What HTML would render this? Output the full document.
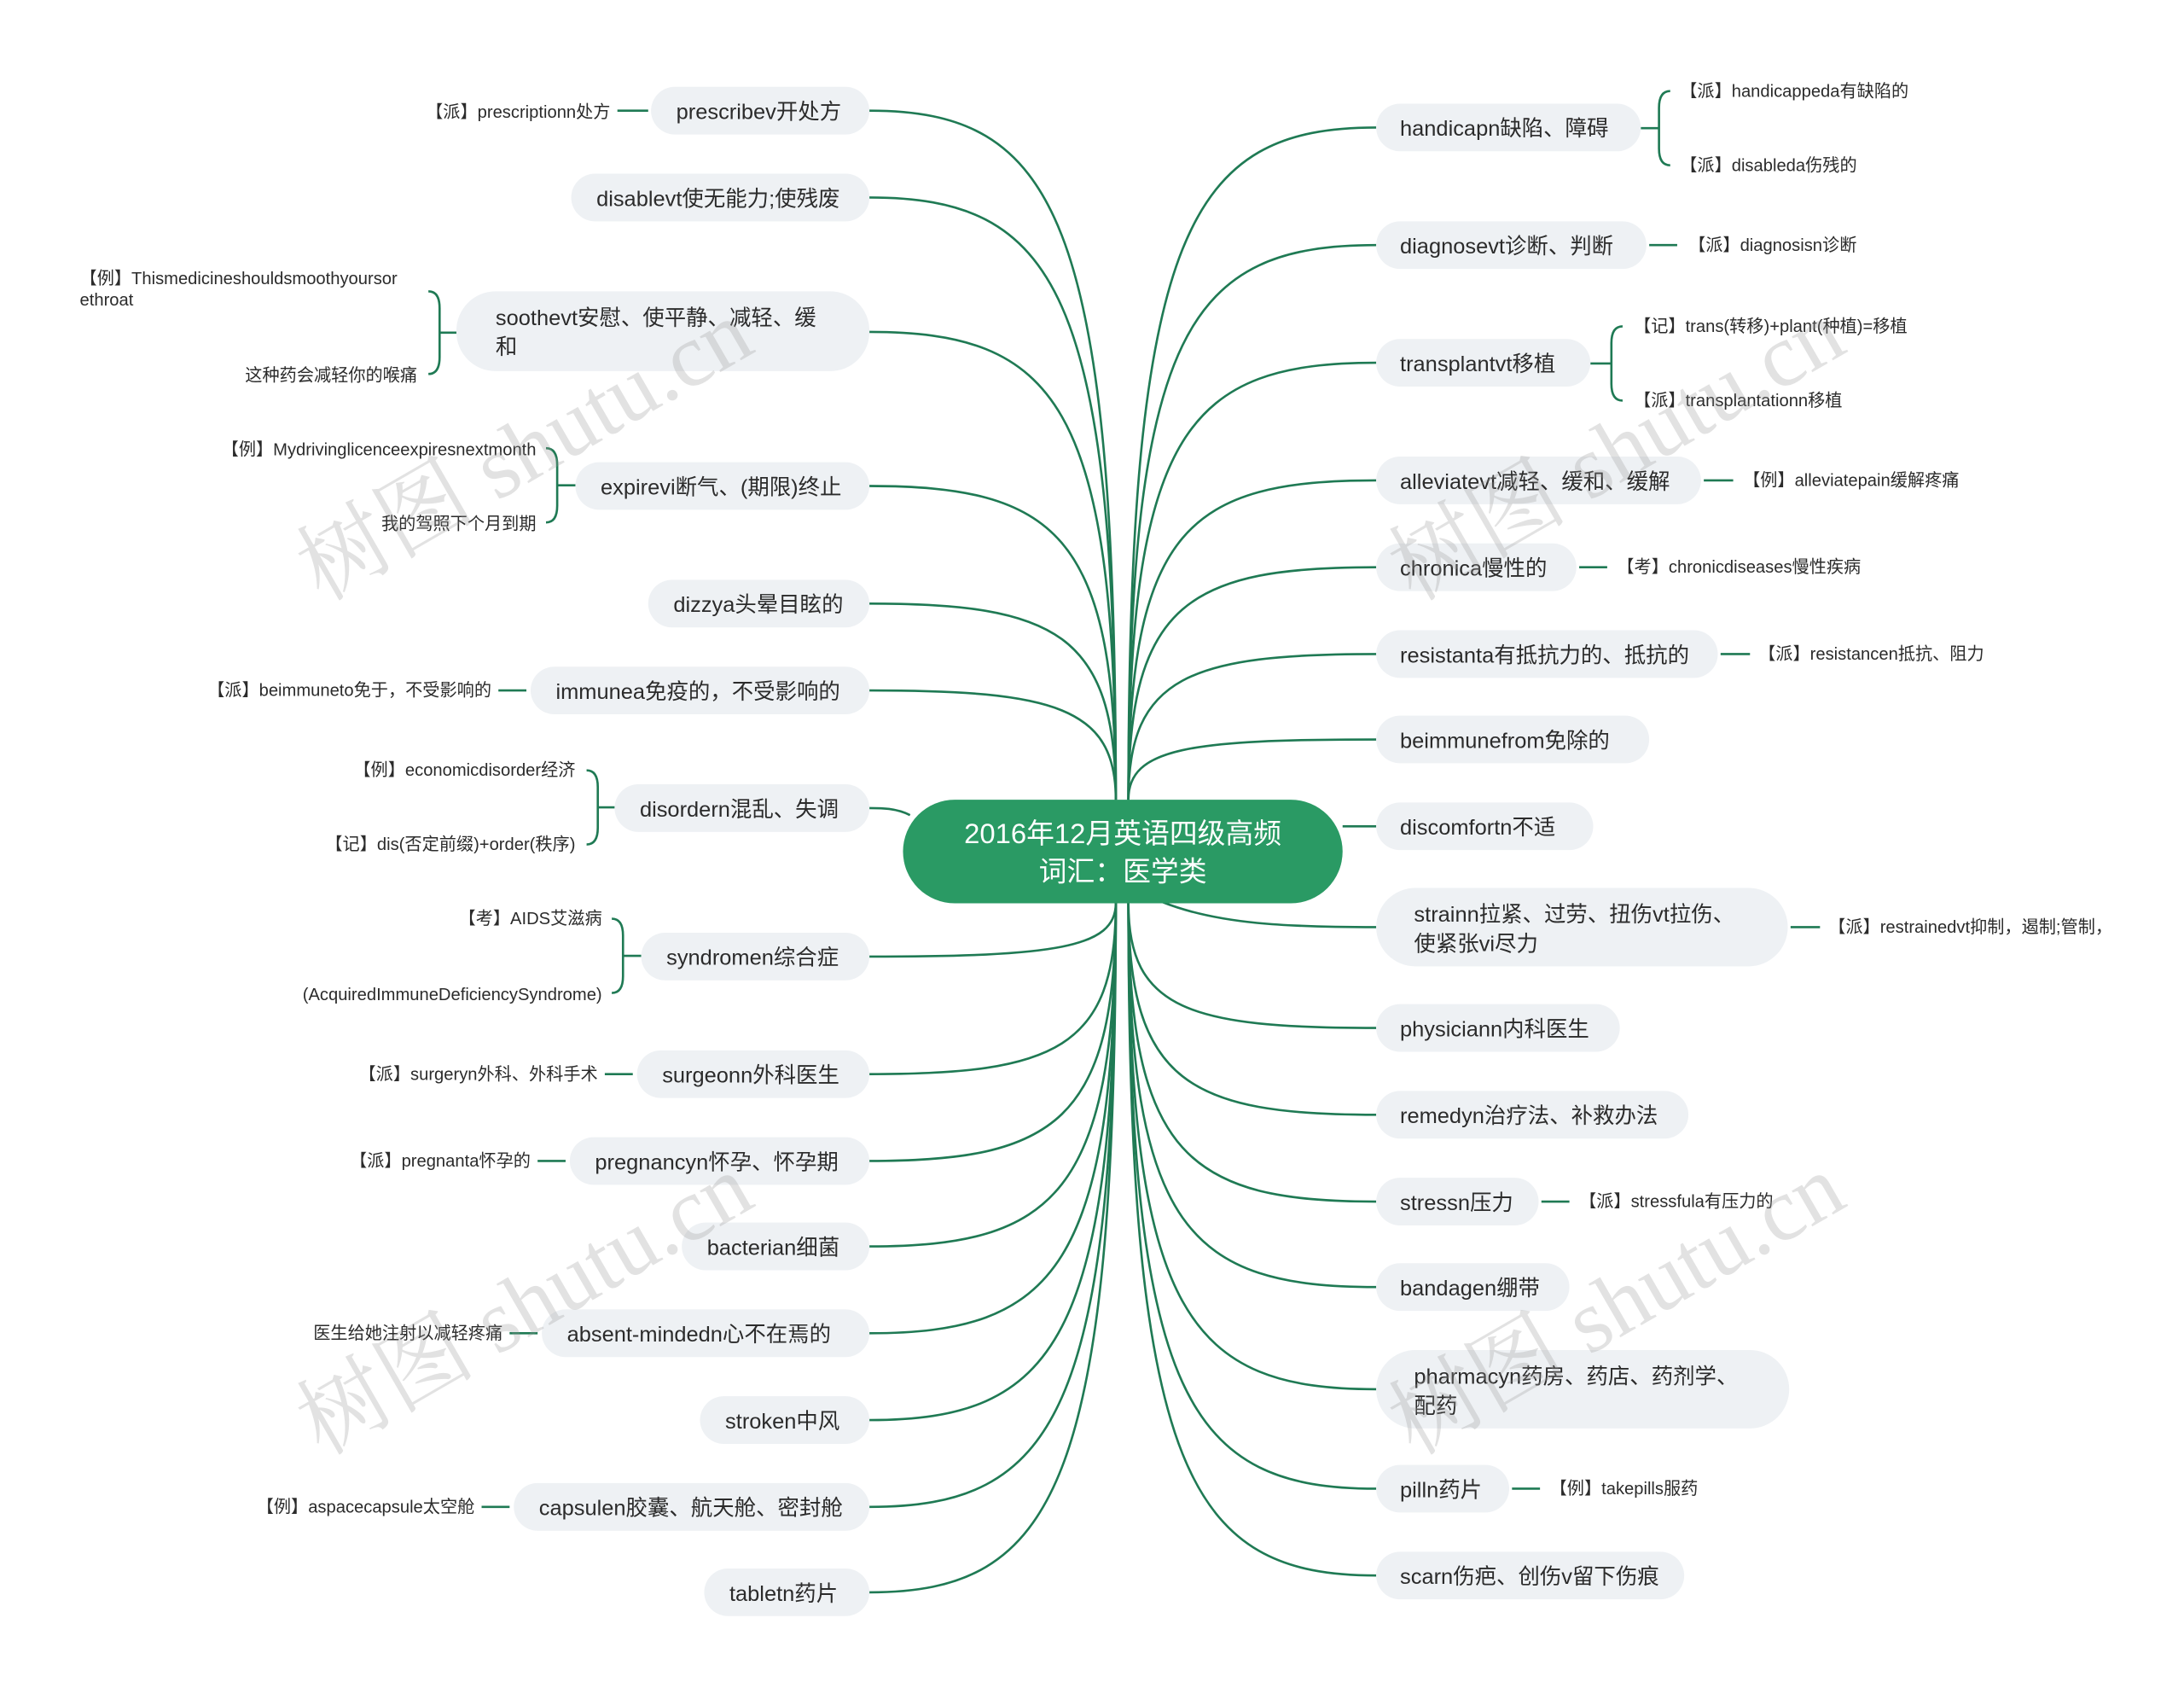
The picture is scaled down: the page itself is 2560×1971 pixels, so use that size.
<!DOCTYPE html>
<html><head><meta charset="utf-8">
<style>
html,body{margin:0;padding:0;background:#fff;}
svg{display:block;}
.n{fill:#eef1f4;}
.t{font-family:"Liberation Sans","Noto Sans CJK SC",sans-serif;font-size:15.5px;fill:#2b2b2b;}
.c{font-family:"Liberation Sans","Noto Sans CJK SC",sans-serif;font-size:12.3px;fill:#2b2b2b;}
.l{fill:none;stroke:#1f7a54;stroke-width:1.6;}
.w{font-family:"Liberation Serif","Noto Serif CJK SC",serif;font-size:64px;fill:#9a9a9a;opacity:0.28;}
</style></head>
<body>
<svg width="2560" height="1971" viewBox="0 0 1560 1201" xmlns="http://www.w3.org/2000/svg">
<g>
<path class="l" d="M797 571 C797 153 753 79 621 79"/>
<path class="l" d="M797 571 C797 206 753 141 621 141"/>
<path class="l" d="M797 571 C797 287 753 237 621 237"/>
<path class="l" d="M797 571 C797 381 753 347 621 347"/>
<path class="l" d="M797 571 C797 452 753 431 621 431"/>
<path class="l" d="M797 571 C797 505 753 493 621 493"/>
<path class="l" d="M650 582 C640 577 630 577 621 577"/>
<path class="l" d="M797 645 C797 677 753 683 621 683"/>
<path class="l" d="M797 645 C797 749 753 767 621 767"/>
<path class="l" d="M797 645 C797 801 753 829 621 829"/>
<path class="l" d="M797 645 C797 853 753 890 621 890"/>
<path class="l" d="M797 645 C797 906 753 952 621 952"/>
<path class="l" d="M797 645 C797 959 753 1014 621 1014"/>
<path class="l" d="M797 645 C797 1011 753 1076 621 1076"/>
<path class="l" d="M797 645 C797 1063 753 1137 621 1137"/>

<path class="l" d="M806 571 C806 163 850 91 983 91"/>
<path class="l" d="M806 571 C806 234 850 175 983 175"/>
<path class="l" d="M806 571 C806 306 850 259 983 259"/>
<path class="l" d="M806 571 C806 377 850 343 983 343"/>
<path class="l" d="M806 571 C806 430 850 405 983 405"/>
<path class="l" d="M806 571 C806 483 850 467 983 467"/>
<path class="l" d="M806 571 C806 534 850 528 983 528"/>
<path class="l" d="M959 590 L983 590"/>
<path class="l" d="M830 644 C870 660 920 662 983 662"/>
<path class="l" d="M806 645 C806 721 850 734 983 734"/>
<path class="l" d="M806 645 C806 773 850 796 983 796"/>
<path class="l" d="M806 645 C806 826 850 858 983 858"/>
<path class="l" d="M806 645 C806 878 850 919 983 919"/>
<path class="l" d="M806 645 C806 940 850 992 983 992"/>
<path class="l" d="M806 645 C806 1000 850 1063 983 1063"/>
<path class="l" d="M806 645 C806 1053 850 1125 983 1125"/>

<path class="l" d="M441 79 L463 79 M356 493 L376 493 M432 767 L452 767 M384 829 L404 829 M364 952 L384 952 M344 1076 L364 1076"/>
<path class="l" d="M1178 175 L1198 175 M1217 343 L1238 343 M1128 405 L1148 405 M1229 467 L1250 467 M1279 662 L1300 662 M1101 858 L1121 858 M1080 1063 L1100 1063"/>

<path class="l" d="M306 208 Q314 208 314 220 L314 255 Q314 267 306 267 M314 237.5 L326 237.5"/>
<path class="l" d="M390 320 Q398 320 398 332 L398 361 Q398 373 390 373 M398 346.5 L411 346.5"/>
<path class="l" d="M419 550 Q427 550 427 562 L427 591 Q427 603 419 603 M427 576.5 L439 576.5"/>
<path class="l" d="M437 656 Q445 656 445 668 L445 697 Q445 709 437 709 M445 682.5 L458 682.5"/>
<path class="l" d="M1193 65 Q1185 65 1185 77 L1185 106 Q1185 118 1193 118 M1185 91.5 L1172 91.5"/>
<path class="l" d="M1159 233 Q1151 233 1151 245 L1151 274 Q1151 286 1159 286 M1151 259.5 L1136 259.5"/>
</g>

<!-- center -->
<rect x="645" y="571" width="314" height="74" rx="37" fill="#2a9a64"/>
<text x="802" y="602" text-anchor="middle" font-family="Liberation Sans,'Noto Sans CJK SC',sans-serif" font-size="20" fill="#fff">2016年12月英语四级高频</text>
<text x="802" y="629" text-anchor="middle" font-family="Liberation Sans,'Noto Sans CJK SC',sans-serif" font-size="20" fill="#fff">词汇：医学类</text>

<!-- left nodes -->
<rect class="n" x="465" y="62" width="156" height="34" rx="17"/><text class="t" x="483" y="85">prescribev开处方</text>
<rect class="n" x="408" y="124" width="213" height="34" rx="17"/><text class="t" x="426" y="147">disablevt使无能力;使残废</text>
<rect class="n" x="326" y="208" width="295" height="57" rx="28"/><text class="t" x="354" y="232">soothevt安慰、使平静、减轻、缓</text><text class="t" x="354" y="253">和</text>
<rect class="n" x="411" y="330" width="210" height="34" rx="17"/><text class="t" x="429" y="353">expirevi断气、(期限)终止</text>
<rect class="n" x="463" y="414" width="158" height="34" rx="17"/><text class="t" x="481" y="437">dizzya头晕目眩的</text>
<rect class="n" x="379" y="476" width="242" height="34" rx="17"/><text class="t" x="397" y="499">immunea免疫的，不受影响的</text>
<rect class="n" x="439" y="560" width="182" height="34" rx="17"/><text class="t" x="457" y="583">disordern混乱、失调</text>
<rect class="n" x="458" y="666" width="163" height="34" rx="17"/><text class="t" x="476" y="689">syndromen综合症</text>
<rect class="n" x="455" y="750" width="166" height="34" rx="17"/><text class="t" x="473" y="773">surgeonn外科医生</text>
<rect class="n" x="407" y="812" width="214" height="34" rx="17"/><text class="t" x="425" y="835">pregnancyn怀孕、怀孕期</text>
<rect class="n" x="487" y="873" width="134" height="34" rx="17"/><text class="t" x="505" y="896">bacterian细菌</text>
<rect class="n" x="387" y="935" width="234" height="34" rx="17"/><text class="t" x="405" y="958">absent-mindedn心不在焉的</text>
<rect class="n" x="500" y="997" width="121" height="34" rx="17"/><text class="t" x="518" y="1020">stroken中风</text>
<rect class="n" x="367" y="1059" width="254" height="34" rx="17"/><text class="t" x="385" y="1082">capsulen胶囊、航天舱、密封舱</text>
<rect class="n" x="503" y="1120" width="118" height="34" rx="17"/><text class="t" x="521" y="1143">tabletn药片</text>

<!-- left children -->
<g class="c" text-anchor="end">
<text x="436" y="84">【派】prescriptionn处方</text>
<text x="383" y="325">【例】Mydrivinglicenceexpiresnextmonth</text>
<text x="383" y="378">我的驾照下个月到期</text>
<text x="351" y="497">【派】beimmuneto免于，不受影响的</text>
<text x="411" y="554">【例】economicdisorder经济</text>
<text x="411" y="607">【记】dis(否定前缀)+order(秩序)</text>
<text x="430" y="660">【考】AIDS艾滋病</text>
<text x="430" y="714">(AcquiredImmuneDeficiencySyndrome)</text>
<text x="427" y="771">【派】surgeryn外科、外科手术</text>
<text x="379" y="833">【派】pregnanta怀孕的</text>
<text x="359" y="956">医生给她注射以减轻疼痛</text>
<text x="339" y="1080">【例】aspacecapsule太空舱</text>
<text x="298" y="272">这种药会减轻你的喉痛</text>
</g>
<text class="c" x="57" y="203">【例】Thismedicineshouldsmoothyoursor</text>
<text class="c" x="57" y="218">ethroat</text>

<!-- right nodes -->
<rect class="n" x="983" y="74" width="189" height="34" rx="17"/><text class="t" x="1000" y="97">handicapn缺陷、障碍</text>
<rect class="n" x="983" y="158" width="193" height="34" rx="17"/><text class="t" x="1000" y="181">diagnosevt诊断、判断</text>
<rect class="n" x="983" y="242" width="153" height="34" rx="17"/><text class="t" x="1000" y="265">transplantvt移植</text>
<rect class="n" x="983" y="326" width="232" height="34" rx="17"/><text class="t" x="1000" y="349">alleviatevt减轻、缓和、缓解</text>
<rect class="n" x="983" y="388" width="143" height="34" rx="17"/><text class="t" x="1000" y="411">chronica慢性的</text>
<rect class="n" x="983" y="450" width="244" height="34" rx="17"/><text class="t" x="1000" y="473">resistanta有抵抗力的、抵抗的</text>
<rect class="n" x="983" y="511" width="195" height="34" rx="17"/><text class="t" x="1000" y="534">beimmunefrom免除的</text>
<rect class="n" x="983" y="573" width="155" height="34" rx="17"/><text class="t" x="1000" y="596">discomfortn不适</text>
<rect class="n" x="983" y="634" width="294" height="56" rx="28"/><text class="t" x="1010" y="658">strainn拉紧、过劳、扭伤vt拉伤、</text><text class="t" x="1010" y="679">使紧张vi尽力</text>
<rect class="n" x="983" y="717" width="174" height="34" rx="17"/><text class="t" x="1000" y="740">physiciann内科医生</text>
<rect class="n" x="983" y="779" width="223" height="34" rx="17"/><text class="t" x="1000" y="802">remedyn治疗法、补救办法</text>
<rect class="n" x="983" y="841" width="116" height="34" rx="17"/><text class="t" x="1000" y="864">stressn压力</text>
<rect class="n" x="983" y="902" width="138" height="34" rx="17"/><text class="t" x="1000" y="925">bandagen绷带</text>
<rect class="n" x="983" y="964" width="295" height="56" rx="28"/><text class="t" x="1010" y="988">pharmacyn药房、药店、药剂学、</text><text class="t" x="1010" y="1009">配药</text>
<rect class="n" x="983" y="1046" width="95" height="34" rx="17"/><text class="t" x="1000" y="1069">pilln药片</text>
<rect class="n" x="983" y="1108" width="220" height="34" rx="17"/><text class="t" x="1000" y="1131">scarn伤疤、创伤v留下伤痕</text>

<!-- right children -->
<g class="c">
<text x="1200" y="69">【派】handicappeda有缺陷的</text>
<text x="1200" y="122">【派】disableda伤残的</text>
<text x="1206" y="179">【派】diagnosisn诊断</text>
<text x="1167" y="237">【记】trans(转移)+plant(种植)=移植</text>
<text x="1167" y="290">【派】transplantationn移植</text>
<text x="1245" y="347">【例】alleviatepain缓解疼痛</text>
<text x="1155" y="409">【考】chronicdiseases慢性疾病</text>
<text x="1256" y="471">【派】resistancen抵抗、阻力</text>
<text x="1306" y="666">【派】restrainedvt抑制，遏制;管制，</text>
<text x="1128" y="862">【派】stressfula有压力的</text>
<text x="1107" y="1067">【例】takepills服药</text>
</g>

<!-- watermarks -->
<text class="w" transform="translate(230,430) rotate(-30)">树图 shutu.cn</text>
<text class="w" transform="translate(1010,430) rotate(-30)">树图 shutu.cn</text>
<text class="w" transform="translate(230,1040) rotate(-30)">树图 shutu.cn</text>
<text class="w" transform="translate(1010,1040) rotate(-30)">树图 shutu.cn</text>
</svg>
</body></html>
